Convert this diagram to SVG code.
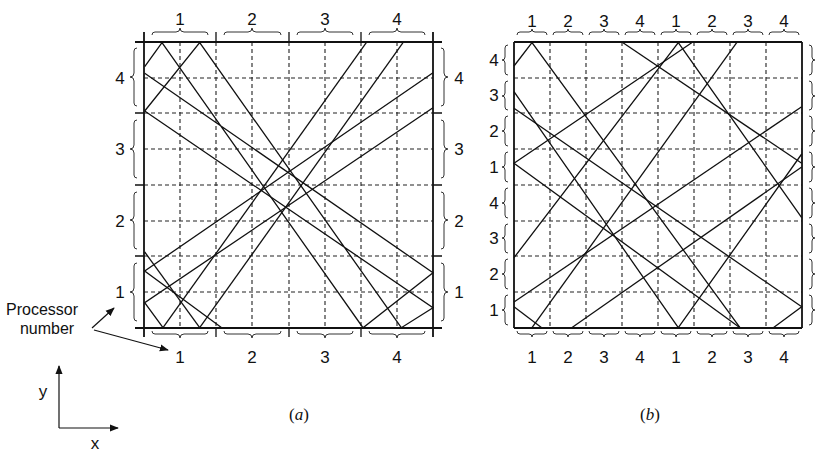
<svg xmlns="http://www.w3.org/2000/svg" width="824" height="452" viewBox="0 0 824 452">
<defs>
<style>
.bd{stroke:#111;stroke-width:1.8;fill:none}
.tk{stroke:#111;stroke-width:1.3;fill:none}
.gd{stroke:#222;stroke-width:1.1;stroke-dasharray:4 3;fill:none}
.ry{stroke:#111;stroke-width:1.3;fill:none}
.br{stroke:#333;stroke-width:1;fill:none}
.t{font-family:"Liberation Sans",Arial,Helvetica,sans-serif;font-size:17px;fill:#111;text-anchor:middle}
.lb{font-family:"Liberation Sans",Arial,Helvetica,sans-serif;font-size:16px;fill:#111;text-anchor:middle}
.cap{font-family:"Liberation Serif","Times New Roman",serif;font-size:17px;fill:#111;text-anchor:middle}
.ar{stroke:#111;stroke-width:1.2;fill:none}
</style>
<marker id="ah" viewBox="0 0 10 10" refX="9" refY="5" markerWidth="9" markerHeight="9" orient="auto" markerUnits="userSpaceOnUse">
<path d="M0,1 L10,5 L0,9 z" fill="#111"/>
</marker>
</defs>
<rect width="824" height="452" fill="#fff"/>

<!-- Panel (a) -->
<g id="panel-a">
<g id="grid-a">
<path class="gd" d="M180,42V328M216,42V328M252,42V328M289,42V328M325,42V328M361,42V328M397,42V328"/>
<path class="gd" d="M144,78H433M144,113H433M144,149H433M144,185H433M144,221H433M144,256H433M144,292H433"/>
<path class="tk" d="M216,32V42M289,32V42M361,32V42M216,328V337M289,328V337M361,328V337M135,113H144M135,185H144M135,256H144M433,113H442M433,185H442M433,256H442"/>
<path class="bd" d="M144,32V337M433,32V337M135,42H442M135,328H442"/>
</g>
<g id="braces-a" class="br">
<path d="M152,35q0,-3 3,-3H176q4,0 4,-4q0,4 4,4H205q3,0 3,3"/>
<path d="M224,35q0,-3 3,-3H248q4,0 4,-4q0,4 4,4H278q3,0 3,3"/>
<path d="M297,35q0,-3 3,-3H321q4,0 4,-4q0,4 4,4H350q3,0 3,3"/>
<path d="M369,35q0,-3 3,-3H393q4,0 4,-4q0,4 4,4H422q3,0 3,3"/>
<path d="M152,331q0,3 3,3H176q4,0 4,4q0,-4 4,-4H205q3,0 3,-3"/>
<path d="M224,331q0,3 3,3H248q4,0 4,4q0,-4 4,-4H278q3,0 3,-3"/>
<path d="M297,331q0,3 3,3H321q4,0 4,4q0,-4 4,-4H350q3,0 3,-3"/>
<path d="M369,331q0,3 3,3H393q4,0 4,4q0,-4 4,-4H422q3,0 3,-3"/>
<path d="M137,48q-3,0 -3,3V73q0,4 -4,4q4,0 4,4V103q0,3 3,3"/>
<path d="M137,120q-3,0 -3,3V145q0,4 -4,4q4,0 4,4V175q0,3 3,3"/>
<path d="M137,192q-3,0 -3,3V216q0,4 -4,4q4,0 4,4V246q0,3 3,3"/>
<path d="M137,263q-3,0 -3,3V288q0,4 -4,4q4,0 4,4V318q0,3 3,3"/>
<path d="M441,48q3,0 3,3V73q0,4 4,4q-4,0 -4,4V103q0,3 -3,3"/>
<path d="M441,120q3,0 3,3V145q0,4 4,4q-4,0 -4,4V175q0,3 -3,3"/>
<path d="M441,192q3,0 3,3V216q0,4 4,4q-4,0 -4,4V246q0,3 -3,3"/>
<path d="M441,263q3,0 3,3V288q0,4 4,4q-4,0 -4,4V318q0,3 -3,3"/>
</g>
<g id="labels-a" class="t">
<text x="180" y="25">1</text><text x="252" y="25">2</text><text x="325" y="25">3</text><text x="397" y="25">4</text>
<text x="180" y="363">1</text><text x="252" y="363">2</text><text x="325" y="363">3</text><text x="397" y="363">4</text>
<text x="120" y="84">4</text><text x="120" y="155">3</text><text x="120" y="227">2</text><text x="120" y="298">1</text>
<text x="459" y="84">4</text><text x="459" y="155">3</text><text x="459" y="227">2</text><text x="459" y="298">1</text>
</g>
<g id="rays-a" class="ry">
<path d="M144.7,66.7L162,42.7L363,327.7L433,272.7L144.7,73.3"/>
<path d="M144.7,111L199.7,42.7L401.3,327.7L433,307.7L144.7,111"/>
<path d="M163,327.7L366.3,42.7"/>
<path d="M199.7,327.7L403,42.7"/>
<path d="M221.7,327.7L144.7,271L433,72.7"/>
<path d="M163,327.7L144.7,302.7L433,107.7"/>
<path d="M144.7,252L199.7,327.7"/>
</g>
<text id="cap-a" class="cap" x="299" y="420">(<tspan font-style="italic">a</tspan>)</text>
</g>

<!-- Panel (b) -->
<g id="panel-b">
<g id="grid-b">
<path class="gd" d="M550,42V328M586,42V328M622,42V328M658,42V328M694,42V328M730,42V328M766,42V328"/>
<path class="gd" d="M514,78H802M514,113H802M514,149H802M514,185H802M514,221H802M514,256H802M514,292H802"/>
<path class="bd" d="M514,42V328M802,42V328M514,42H802M514,328H802"/>
</g>
<g id="braces-b" class="br">
<path d="M517,35q0,-3 3,-3H529q3,0 3,-3q0,3 3,3H544q3,0 3,3"/>
<path d="M553,35q0,-3 3,-3H565q3,0 3,-3q0,3 3,3H580q3,0 3,3"/>
<path d="M589,35q0,-3 3,-3H601q3,0 3,-3q0,3 3,3H616q3,0 3,3"/>
<path d="M625,35q0,-3 3,-3H637q3,0 3,-3q0,3 3,3H652q3,0 3,3"/>
<path d="M661,35q0,-3 3,-3H673q3,0 3,-3q0,3 3,3H688q3,0 3,3"/>
<path d="M697,35q0,-3 3,-3H709q3,0 3,-3q0,3 3,3H724q3,0 3,3"/>
<path d="M733,35q0,-3 3,-3H745q3,0 3,-3q0,3 3,3H760q3,0 3,3"/>
<path d="M769,35q0,-3 3,-3H781q3,0 3,-3q0,3 3,3H796q3,0 3,3"/>
<path d="M517,331q0,3 3,3H529q3,0 3,3q0,-3 3,-3H544q3,0 3,-3"/>
<path d="M553,331q0,3 3,3H565q3,0 3,3q0,-3 3,-3H580q3,0 3,-3"/>
<path d="M589,331q0,3 3,3H601q3,0 3,3q0,-3 3,-3H616q3,0 3,-3"/>
<path d="M625,331q0,3 3,3H637q3,0 3,3q0,-3 3,-3H652q3,0 3,-3"/>
<path d="M661,331q0,3 3,3H673q3,0 3,3q0,-3 3,-3H688q3,0 3,-3"/>
<path d="M697,331q0,3 3,3H709q3,0 3,3q0,-3 3,-3H724q3,0 3,-3"/>
<path d="M733,331q0,3 3,3H745q3,0 3,3q0,-3 3,-3H760q3,0 3,-3"/>
<path d="M769,331q0,3 3,3H781q3,0 3,3q0,-3 3,-3H796q3,0 3,-3"/>
<path d="M508,45q-3,0 -3,3V57q0,3 -3,3q3,0 3,3V72q0,3 3,3"/>
<path d="M508,81q-3,0 -3,3V93q0,3 -3,3q3,0 3,3V107q0,3 3,3"/>
<path d="M508,116q-3,0 -3,3V128q0,3 -3,3q3,0 3,3V143q0,3 3,3"/>
<path d="M508,152q-3,0 -3,3V164q0,3 -3,3q3,0 3,3V179q0,3 3,3"/>
<path d="M508,188q-3,0 -3,3V200q0,3 -3,3q3,0 3,3V215q0,3 3,3"/>
<path d="M508,224q-3,0 -3,3V235q0,3 -3,3q3,0 3,3V250q0,3 3,3"/>
<path d="M508,259q-3,0 -3,3V271q0,3 -3,3q3,0 3,3V286q0,3 3,3"/>
<path d="M508,295q-3,0 -3,3V307q0,3 -3,3q3,0 3,3V322q0,3 3,3"/>
<path d="M809,45q3,0 3,3V57q0,3 3,3q-3,0 -3,3V72q0,3 -3,3"/>
<path d="M809,81q3,0 3,3V93q0,3 3,3q-3,0 -3,3V107q0,3 -3,3"/>
<path d="M809,116q3,0 3,3V128q0,3 3,3q-3,0 -3,3V143q0,3 -3,3"/>
<path d="M809,152q3,0 3,3V164q0,3 3,3q-3,0 -3,3V179q0,3 -3,3"/>
<path d="M809,188q3,0 3,3V200q0,3 3,3q-3,0 -3,3V215q0,3 -3,3"/>
<path d="M809,224q3,0 3,3V235q0,3 3,3q-3,0 -3,3V250q0,3 -3,3"/>
<path d="M809,259q3,0 3,3V271q0,3 3,3q-3,0 -3,3V286q0,3 -3,3"/>
<path d="M809,295q3,0 3,3V307q0,3 3,3q-3,0 -3,3V322q0,3 -3,3"/>
</g>
<g id="labels-b" class="t">
<text x="532" y="27">1</text><text x="568" y="27">2</text><text x="604" y="27">3</text><text x="640" y="27">4</text>
<text x="676" y="27">1</text><text x="712" y="27">2</text><text x="748" y="27">3</text><text x="784" y="27">4</text>
<text x="532" y="363">1</text><text x="568" y="363">2</text><text x="604" y="363">3</text><text x="640" y="363">4</text>
<text x="676" y="363">1</text><text x="712" y="363">2</text><text x="748" y="363">3</text><text x="784" y="363">4</text>
<text x="494" y="66">4</text><text x="494" y="101">3</text><text x="494" y="137">2</text><text x="494" y="173">1</text>
<text x="494" y="209">4</text><text x="494" y="244">3</text><text x="494" y="280">2</text><text x="494" y="316">1</text>
</g>
<g id="rays-b" class="ry">
<path d="M514,66L532,42.7L740,327.7"/>
<path d="M514,91.7L678.3,327.7L801.7,154"/>
<path d="M514,108.3L801.7,306.7L773.3,327.7"/>
<path d="M691.7,42.7L514,163.3L740,327.7"/>
<path d="M514,257.7L678.3,42.7L801.7,217.7"/>
<path d="M623,42.7L801.7,163.3"/>
<path d="M514,302L801.7,106.7"/>
<path d="M514,306.7L541.7,327.7"/>
<path d="M532,327.7L736.7,42.7"/>
<path d="M571.7,327.7L801.7,167"/>
</g>
<text id="cap-b" class="cap" x="650" y="420">(<tspan font-style="italic">b</tspan>)</text>
</g>

<g id="connectors">
<path class="ar" d="M92,328L114,308" marker-end="url(#ah)"/>
<path class="ar" d="M94,330L168,350" marker-end="url(#ah)"/>
<path class="ar" d="M59,428V366" marker-end="url(#ah)"/>
<path class="ar" d="M59,428H118" marker-end="url(#ah)"/>
</g>
<g id="note" class="lb">
<text x="42" y="315">Processor</text>
<text x="47" y="334">number</text>
</g>
<g id="axes-labels" class="t">
<text x="43" y="397">y</text>
<text x="95" y="449">x</text>
</g>
</svg>
